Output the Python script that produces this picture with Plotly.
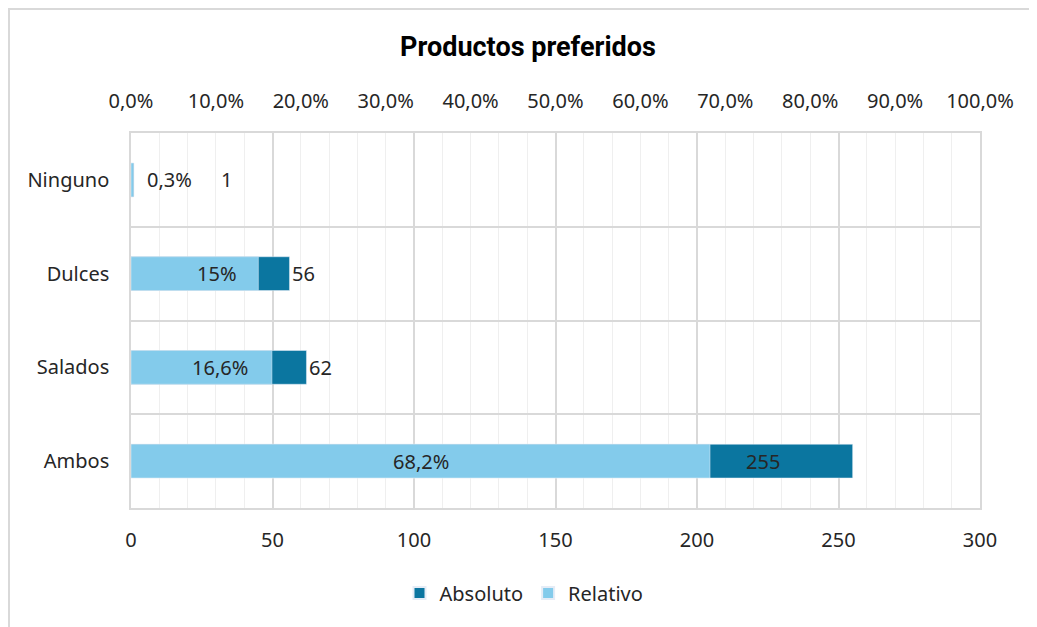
import plotly.graph_objects as go

categories = ["Ninguno", "Dulces", "Salados", "Ambos"]
absoluto = [1, 56, 62, 255]
relativo = [0.003, 0.15, 0.166, 0.682]
rel_labels = ["0,3%", "15%", "16,6%", "68,2%"]
abs_labels = ["1", "56", "62", "255"]

# label pixel offsets (style only)
rel_shift = [37, 22, 19, 0]
abs_shift = [85, 1, 1, -109]

DARK = "#0B76A0"
LIGHT = "#83CBEB"
TXT = "#262626"
FONT = "Noto Sans"

ypos = list(range(len(categories)))

fig = go.Figure()
fig.add_trace(go.Bar(
    name="Absoluto", y=ypos, x=absoluto, orientation="h",
    marker=dict(color=DARK), width=0.36, xaxis="x", yaxis="y",
    hoverinfo="skip",
))
fig.add_trace(go.Bar(
    name="Relativo", y=ypos, x=relativo, orientation="h",
    marker=dict(color=LIGHT), width=0.36, xaxis="x2", yaxis="y",
    hoverinfo="skip",
))

annotations = []
for i in range(len(categories)):
    annotations.append(dict(
        x=relativo[i] / 2, y=ypos[i], xref="x2", yref="y", text=rel_labels[i],
        showarrow=False, xanchor="center", yanchor="middle", xshift=rel_shift[i],
        font=dict(family=FONT, size=20, color=TXT),
    ))
    annotations.append(dict(
        x=absoluto[i], y=ypos[i], xref="x", yref="y", text=abs_labels[i],
        showarrow=False, xanchor="left", yanchor="middle", xshift=abs_shift[i],
        font=dict(family=FONT, size=20, color=TXT),
    ))

OFF = 8  # page body margin
W, H = 1037 - OFF, 627 - OFF
L, R, T, B = 131 - OFF, W - (980 - OFF), 133 - OFF, H - (508 - OFF)
pw, ph = W - L - R, H - T - B

fig.update_layout(
    width=W, height=H,
    margin=dict(l=L, r=R, t=T, b=B),
    paper_bgcolor="white", plot_bgcolor="white",
    barmode="overlay",
    separators=",.",
    font=dict(family=FONT, size=20, color=TXT),
    title=dict(text="<b>Productos preferidos</b>", x=(528 - OFF) / W, xref="container",
               xanchor="center", y=1 - (47 - OFF) / H, yref="container", yanchor="middle",
               font=dict(family="Roboto", size=27, color="#000000")),
    xaxis=dict(
        range=[0, 300], dtick=50, tick0=0, side="bottom",
        showgrid=True, gridcolor="#D9D9D9", gridwidth=1.5,
        minor=dict(dtick=10, tick0=0, showgrid=True, gridcolor="#EFEFEF", gridwidth=1),
        showline=True, mirror=True, linecolor="#D9D9D9", linewidth=1.5,
        zeroline=False, ticks="outside", ticklen=13, tickcolor="rgba(0,0,0,0)",
        tickfont=dict(family=FONT, size=20, color=TXT), fixedrange=True,
    ),
    xaxis2=dict(
        range=[0, 1], dtick=0.1, tick0=0, tickformat=".1%", side="top",
        overlaying="x", showgrid=False, zeroline=False, showline=False,
        ticks="outside", ticklen=16, tickcolor="rgba(0,0,0,0)",
        tickfont=dict(family=FONT, size=20, color=TXT), fixedrange=True,
    ),
    yaxis=dict(
        range=[3.5, -0.5], tickvals=ypos, ticktext=categories,
        showgrid=False, zeroline=False,
        minor=dict(tickmode="linear", tick0=0.5, dtick=1, showgrid=True,
                   gridcolor="#D9D9D9", gridwidth=1.5),
        showline=True, mirror=True, linecolor="#D9D9D9", linewidth=1.5,
        ticks="outside", ticklen=16, tickcolor="rgba(0,0,0,0)",
        tickfont=dict(family=FONT, size=20, color=TXT), fixedrange=True,
    ),
    legend=dict(orientation="h", x=(524 - 131) / pw, xanchor="center",
                y=-(593 - 508) / ph, yanchor="middle",
                font=dict(family=FONT, size=20, color=TXT),
                itemsizing="constant", traceorder="normal"),
    annotations=annotations,
    shapes=[dict(type="rect", xref="paper", yref="paper",
                 x0=(9 - 131) / pw, x1=2, y0=-2, y1=(508 - 9) / ph,
                 line=dict(color="#D9D9D9", width=2), fillcolor="rgba(0,0,0,0)",
                 layer="below")],
)

fig.write_html("out.html", config={"displayModeBar": False})
